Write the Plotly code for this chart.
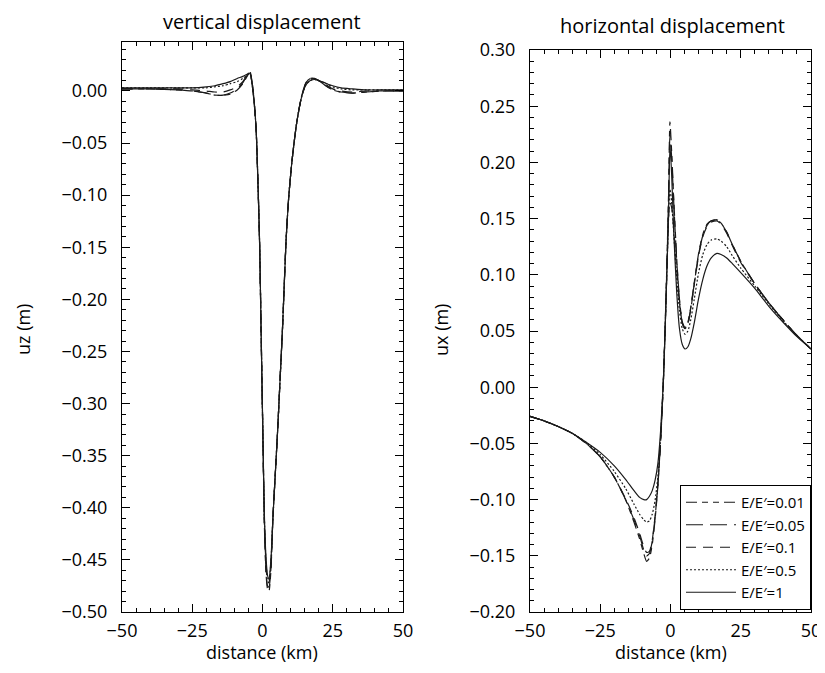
import plotly.graph_objects as go

# ---------------- vertical displacement ----------------
xv = [-50, -40, -30, -25, -20, -17, -14, -11.5, -9, -7, -5.5, -4.5, -3.3, -2.3, -1.5, -1.0, -0.5, 0.1,
      0.7, 1.3, 1.8, 2.3, 3.0, 3.7, 4.5, 5.4, 6.2, 7.1, 8.4, 9.3, 10.5, 12.2, 14, 15.5, 17, 18.5, 20,
      22, 25, 28, 32, 37, 43, 50]
uz_001 = [0.002, 0.002, 0.001, 0.000, -0.002, -0.004, -0.004, -0.003, 0.001, 0.007, 0.014, 0.019, 0.000,
          -0.035, -0.099, -0.150, -0.230, -0.325, -0.420, -0.465, -0.478, -0.480, -0.460, -0.410, -0.370,
          -0.325, -0.280, -0.229, -0.143, -0.103, -0.067, -0.030, -0.004, 0.008, 0.012, 0.012, 0.010,
          0.006, 0.001, -0.001, -0.002, -0.001, 0.000, 0.000]
uz_005 = [0.002, 0.002, 0.001, 0.000, -0.002, -0.004, -0.004, -0.002, 0.002, 0.008, 0.015, 0.019, 0.000,
          -0.035, -0.099, -0.150, -0.230, -0.325, -0.418, -0.462, -0.475, -0.476, -0.458, -0.410, -0.370,
          -0.325, -0.280, -0.229, -0.143, -0.103, -0.067, -0.030, -0.004, 0.008, 0.012, 0.012, 0.010,
          0.006, 0.001, -0.001, -0.002, -0.001, 0.000, 0.000]
uz_01 = [0.002, 0.002, 0.002, 0.001, 0.000, -0.001, -0.001, 0.001, 0.004, 0.009, 0.015, 0.018, -0.001,
         -0.035, -0.099, -0.150, -0.230, -0.325, -0.415, -0.458, -0.470, -0.472, -0.455, -0.410, -0.370,
         -0.325, -0.280, -0.229, -0.143, -0.103, -0.067, -0.030, -0.004, 0.007, 0.011, 0.012, 0.010,
         0.007, 0.002, 0.000, -0.001, 0.000, 0.000, 0.000]
uz_05 = [0.003, 0.003, 0.003, 0.003, 0.003, 0.004, 0.005, 0.007, 0.009, 0.012, 0.015, 0.017, -0.002,
         -0.035, -0.099, -0.150, -0.230, -0.325, -0.412, -0.455, -0.467, -0.470, -0.452, -0.410, -0.370,
         -0.325, -0.280, -0.229, -0.143, -0.103, -0.067, -0.030, -0.005, 0.006, 0.010, 0.011, 0.010,
         0.008, 0.004, 0.002, 0.001, 0.001, 0.001, 0.001]
uz_1 = [0.003, 0.003, 0.003, 0.003, 0.004, 0.005, 0.007, 0.009, 0.012, 0.014, 0.016, 0.017, -0.003,
        -0.035, -0.099, -0.150, -0.230, -0.325, -0.410, -0.450, -0.465, -0.468, -0.450, -0.410, -0.370,
        -0.325, -0.280, -0.229, -0.143, -0.103, -0.067, -0.030, -0.005, 0.006, 0.010, 0.011, 0.010,
        0.008, 0.005, 0.003, 0.002, 0.001, 0.001, 0.001]

# ---------------- horizontal displacement ----------------
xh = [-50, -45, -40, -35, -30, -25, -20, -16, -13, -11, -9.5, -8.5, -7.5, -6.5, -5.5, -4.5, -3.5, -2.5,
      -1.5, -0.7, -0.2, 0.4, 1.2, 2.2, 3.2, 4.2, 5.2, 6.2, 7.2, 8.5, 10, 11.5, 13, 14.5, 16.5, 18, 20,
      22, 25, 30, 35, 40, 45, 50]
ux_001 = [-0.026, -0.030, -0.035, -0.041, -0.050, -0.062, -0.080, -0.100, -0.120, -0.135, -0.148, -0.155,
          -0.152, -0.140, -0.118, -0.088, -0.048, 0.008, 0.090, 0.170, 0.236, 0.210, 0.165, 0.115, 0.078,
          0.058, 0.053, 0.058, 0.071, 0.094, 0.119, 0.136, 0.145, 0.148, 0.149, 0.146, 0.138, 0.127, 0.112,
          0.092, 0.075, 0.060, 0.046, 0.034]
ux_005 = [-0.026, -0.030, -0.035, -0.041, -0.050, -0.062, -0.080, -0.100, -0.118, -0.132, -0.145, -0.150,
          -0.148, -0.137, -0.116, -0.087, -0.047, 0.008, 0.088, 0.165, 0.224, 0.205, 0.162, 0.113, 0.077,
          0.057, 0.052, 0.057, 0.070, 0.093, 0.118, 0.135, 0.144, 0.148, 0.149, 0.146, 0.138, 0.127, 0.112,
          0.092, 0.075, 0.060, 0.046, 0.034]
ux_01 = [-0.026, -0.030, -0.035, -0.041, -0.050, -0.062, -0.080, -0.099, -0.116, -0.130, -0.142, -0.147,
         -0.146, -0.136, -0.115, -0.086, -0.046, 0.008, 0.085, 0.150, 0.165, 0.160, 0.140, 0.105, 0.075,
         0.057, 0.052, 0.056, 0.069, 0.092, 0.117, 0.134, 0.143, 0.147, 0.148, 0.145, 0.137, 0.126, 0.111,
         0.092, 0.075, 0.060, 0.046, 0.034]
ux_05 = [-0.026, -0.030, -0.035, -0.041, -0.049, -0.060, -0.075, -0.090, -0.104, -0.113, -0.118, -0.120,
         -0.119, -0.113, -0.101, -0.080, -0.044, 0.008, 0.085, 0.150, 0.176, 0.165, 0.135, 0.098, 0.068,
         0.052, 0.047, 0.050, 0.060, 0.079, 0.102, 0.118, 0.127, 0.131, 0.132, 0.130, 0.125, 0.117, 0.106,
         0.090, 0.074, 0.059, 0.046, 0.034]
ux_1 = [-0.026, -0.030, -0.035, -0.041, -0.049, -0.058, -0.070, -0.082, -0.092, -0.098, -0.100, -0.100,
        -0.097, -0.092, -0.083, -0.068, -0.038, 0.008, 0.085, 0.155, 0.215, 0.190, 0.135, 0.085, 0.052,
        0.038, 0.034, 0.036, 0.043, 0.058, 0.079, 0.096, 0.108, 0.115, 0.119, 0.118, 0.115, 0.110, 0.102,
        0.088, 0.072, 0.058, 0.045, 0.034]

names = ["E/E\u2032=0.01", "E/E\u2032=0.05", "E/E\u2032=0.1", "E/E\u2032=0.5", "E/E\u2032=1"]
dashes = ["11px,5px,6px,5px,6px,5px", "17px,7px", "10px,7px", "2px,2px", "solid"]
uz_series = [uz_001, uz_005, uz_01, uz_05, uz_1]
ux_series = [ux_001, ux_005, ux_01, ux_05, ux_1]

FONT = "'Open Sans', 'Noto Sans', sans-serif"
LINE = "#1a1a1a"
TICK_SIZE = 18
AXTITLE_SIZE = 18
TITLE_SIZE = 20

# The page body has an 8px margin, so the figure is drawn 8px in from the window corner.
OFF = 8
W, H = 825 - OFF, 673 - 2 * OFF


def px_x(p):
    return (p - OFF) / W


def px_y(p):
    return (H + OFF - p) / H


fig = go.Figure()
for name, dash, yv in zip(names, dashes, uz_series):
    fig.add_trace(go.Scatter(x=xv, y=yv, mode="lines", name=name, showlegend=False,
                             line=dict(color=LINE, width=1.2, dash=dash, shape="spline", smoothing=0.6),
                             xaxis="x", yaxis="y"))
for name, dash, yv in zip(names, dashes, ux_series):
    fig.add_trace(go.Scatter(x=xh, y=yv, mode="lines", name=name, showlegend=True,
                             line=dict(color=LINE, width=1.2, dash=dash, shape="spline", smoothing=0.6),
                             xaxis="x2", yaxis="y2"))

common = dict(showline=True, linecolor="black", linewidth=1, mirror="allticks", ticks="inside",
              ticklen=8, tickcolor="black", tickwidth=1, showgrid=False, zeroline=False,
              automargin=False,
              tickfont=dict(family=FONT, size=TICK_SIZE, color="black"),
              minor=dict(ticks="inside", ticklen=4, tickcolor="black", tickwidth=1, showgrid=False))

xcommon = dict(range=[-50, 50], dtick=25, tick0=0, ticklabelstandoff=2, **common)
ycommon = dict(dtick=0.05, tick0=0, tickformat=".2f", ticklabelstandoff=10, **common)

fig.update_layout(
    width=W, height=H,
    margin=dict(l=0, r=0, t=0, b=0),
    paper_bgcolor="white", plot_bgcolor="white",
    font=dict(family=FONT, color="black"),
    showlegend=True,
    xaxis=dict(domain=[px_x(122), px_x(403)], anchor="y", **xcommon),
    yaxis=dict(domain=[px_y(612), px_y(42)], anchor="x", range=[-0.5, 0.047], **ycommon),
    xaxis2=dict(domain=[px_x(530), px_x(811)], anchor="y2", **xcommon),
    yaxis2=dict(domain=[px_y(612), px_y(50)], anchor="x2", range=[-0.2, 0.3], **ycommon),
    legend=dict(x=px_x(680), y=px_y(485), xanchor="left", yanchor="top",
                bgcolor="white", bordercolor="black", borderwidth=1,
                font=dict(family=FONT, size=15, color="black"),
                tracegroupgap=0, itemwidth=50),
)

texts = [
    ("vertical displacement", 262, 21, 0, TITLE_SIZE),
    ("horizontal displacement", 672, 25, 0, TITLE_SIZE),
    ("distance (km)", 262, 652, 0, AXTITLE_SIZE),
    ("distance (km)", 671, 652, 0, AXTITLE_SIZE),
    ("uz (m)", 23, 330, -90, AXTITLE_SIZE),
    ("ux (m)", 441, 330, -90, AXTITLE_SIZE),
]
for t, x, y, ang, sz in texts:
    fig.add_annotation(text=t, x=px_x(x), y=px_y(y), xref="paper", yref="paper", showarrow=False,
                       xanchor="center", yanchor="middle", textangle=ang, borderpad=0,
                       font=dict(family=FONT, size=sz, color="black"))

# minor tick spacing
fig.update_xaxes(minor_dtick=5)
fig.update_yaxes(minor_dtick=0.01)

fig.write_html("out.html")
